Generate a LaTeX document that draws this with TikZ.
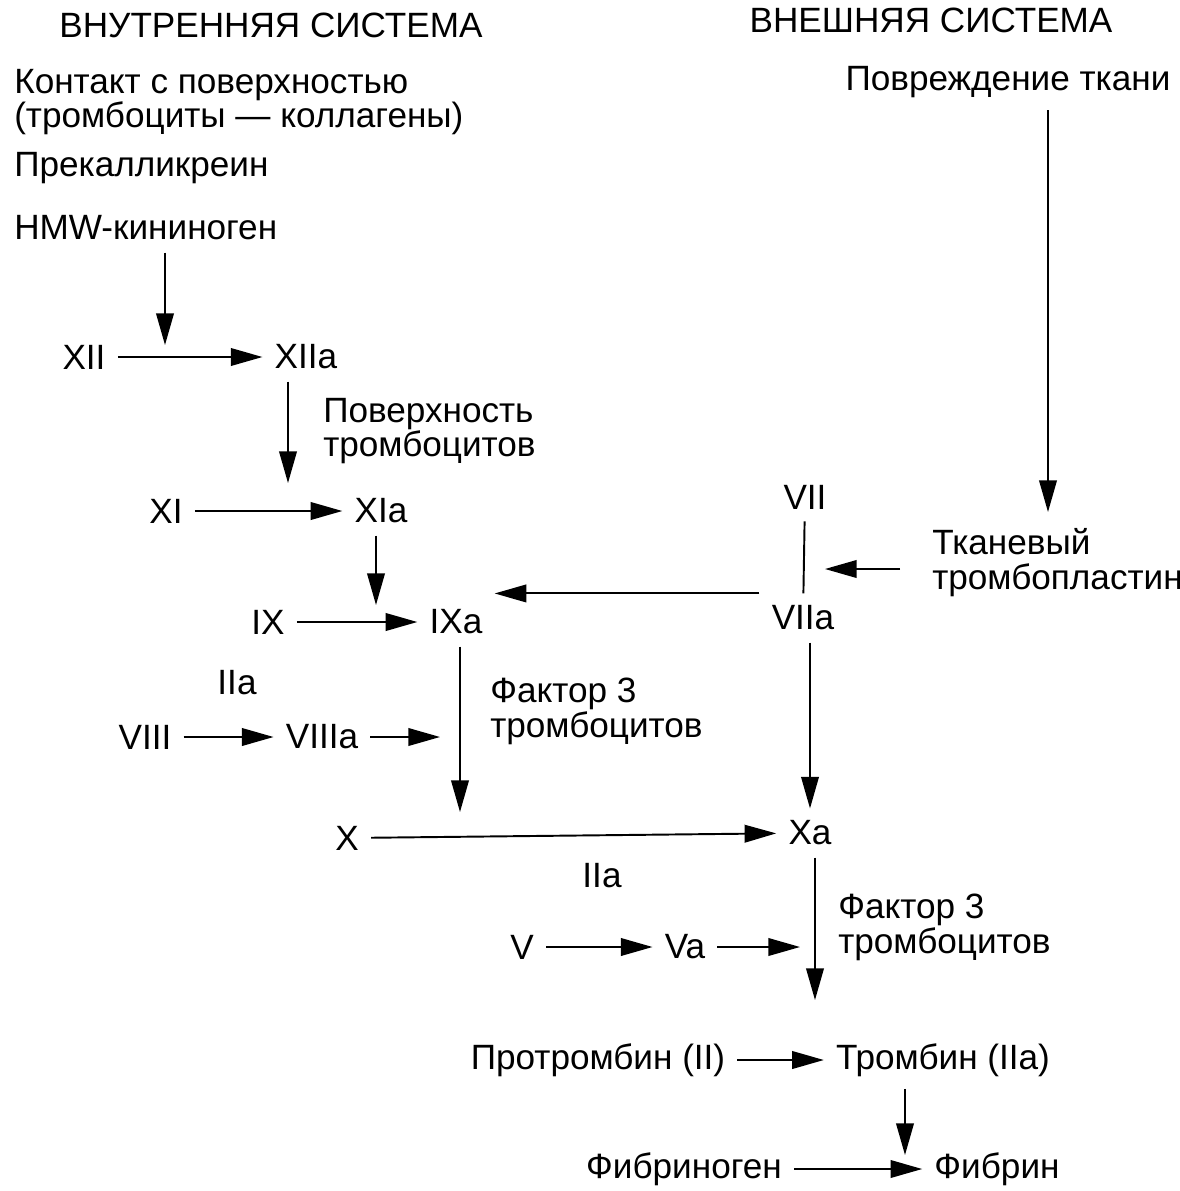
\documentclass[tikz,border=0pt]{standalone}
\usepackage{fontspec}
\setmainfont{Liberation Sans}
\usepackage{tikz}
\usetikzlibrary{arrows.meta,calc}
\tikzset{
  factor/.style={
    inner sep=0pt,
    outer sep=7pt,
    font=\fontsize{20}{18}\selectfont
  },
  note/.style={
    factor,
    align=left,
    anchor=west
  },
  arrow/.style={
    -{Triangle[length=18pt,width=10pt]},
    line width=1.1pt
  },
  link/.style={
    line width=1.1pt
  }
}

\begin{document}
\begin{tikzpicture}[x=0.02cm,y=-0.02cm]
  \useasboundingbox (0,0) rectangle (1180,1191);

  % Headings
  \node[factor] (inner) at (271,25) {ВНУТРЕННЯЯ СИСТЕМА};
  \node[factor] (outer) at (931,20) {ВНЕШНЯЯ СИСТЕМА};

  % Intrinsic triggers
  \node[note] (contact) at (2,102) {Контакт с поверхностью\\(тромбоциты — коллагены)};
  \node[note] (prekal) at (2,168) {Прекалликреин};
  \node[note] (hmw) at (2,228) {HMW-кининоген};

  % Extrinsic triggers
  \node[factor] (injury) at (1008,82) {Повреждение ткани};
  \node[note, font=\fontsize{20}{20}\selectfont] (tissue) at (920,563) {Тканевый\\тромбопластин};

  % Factors
  \node[factor] (xii) at (84,357) {XII};
  \node[factor] (xiia) at (306,357) {XIIa};
  \node[note] (surface) at (311,431) {Поверхность\\тромбоцитов};
  \node[factor] (xi) at (166,511) {XI};
  \node[factor] (xia) at (381,511) {XIa};
  \node[factor] (ix) at (268,622) {IX};
  \node[factor] (ixa) at (456,622) {IXa};
  \node[factor] (vii) at (805,497) {VII};
  \node[factor] (viia) at (803,618) {VIIa};
  \node[factor] (iia1) at (237,683) {IIa};
  \node[factor] (viii) at (145,737) {VIII};
  \node[factor] (viiia) at (322,737) {VIIIa};
  \node[note] (pf1) at (478,711) {Фактор 3\\тромбоцитов};
  \node[factor] (x) at (347,838) {X};
  \node[factor] (xa) at (810,833) {Xa};
  \node[factor] (iia2) at (602,876) {IIa};
  \node[factor] (v) at (522,947) {V};
  \node[factor] (va) at (685,947) {Va};
  \node[note] (pf2) at (826,927) {Фактор 3\\тромбоцитов};
  \node[factor] (pro) at (598,1060) {Протромбин (II)};
  \node[factor] (thr) at (943,1060) {Тромбин (IIa)};
  \node[factor] (fbg) at (684,1169) {Фибриноген};
  \node[factor] (fib) at (997,1169) {Фибрин};

  % Junctions on the lines
  \coordinate (j1) at (165,345);
  \coordinate (j2) at (288,483);
  \coordinate (j3) at (376,605);
  \coordinate (j4) at (460,812);
  \coordinate (j5) at (440,737);
  \coordinate (j6) at (815,1000);
  \coordinate (j7) at (800,947);
  \coordinate (j8) at (905,1155);
  \coordinate (j9) at (825,569);
  \coordinate (col) at (1048,512);

  % Intrinsic cascade
  \draw[arrow] (hmw.south -| j1) -- (j1);
  \draw[arrow] (xii) -- (xiia);
  \draw[arrow] (xiia.south -| j2) -- (j2);
  \draw[arrow] (xi) -- (xia);
  \draw[arrow] (xia.south -| j3) -- (j3);
  \draw[arrow] (ix) -- (ixa);
  \draw[arrow] (ixa.south -| j4) -- (j4);
  \draw[arrow] (viii) -- (viiia);
  \draw[arrow] (viiia) -- (j5);

  % Extrinsic cascade
  \draw[arrow] (injury.south -| col) -- (col);
  \draw[link] (vii) -- (viia);
  \draw[arrow] ([xshift=-20*0.02cm]tissue.west |- j9) -- (j9);
  \draw[arrow] (viia.north west) -- (viia.north west -| ixa.east);
  \draw[arrow] (viia.south -| xa.north) -- (xa.north);

  % Common pathway
  \draw[arrow] (x) -- (xa);
  \draw[arrow] (xa.south -| j6) -- (j6);
  \draw[arrow] (v) -- (va);
  \draw[arrow] (va) -- (j7);
  \draw[arrow] (pro) -- (thr);
  \draw[arrow] (thr.south -| j8) -- (j8);
  \draw[arrow] (fbg) -- (fib);

\end{tikzpicture}
\end{document}
